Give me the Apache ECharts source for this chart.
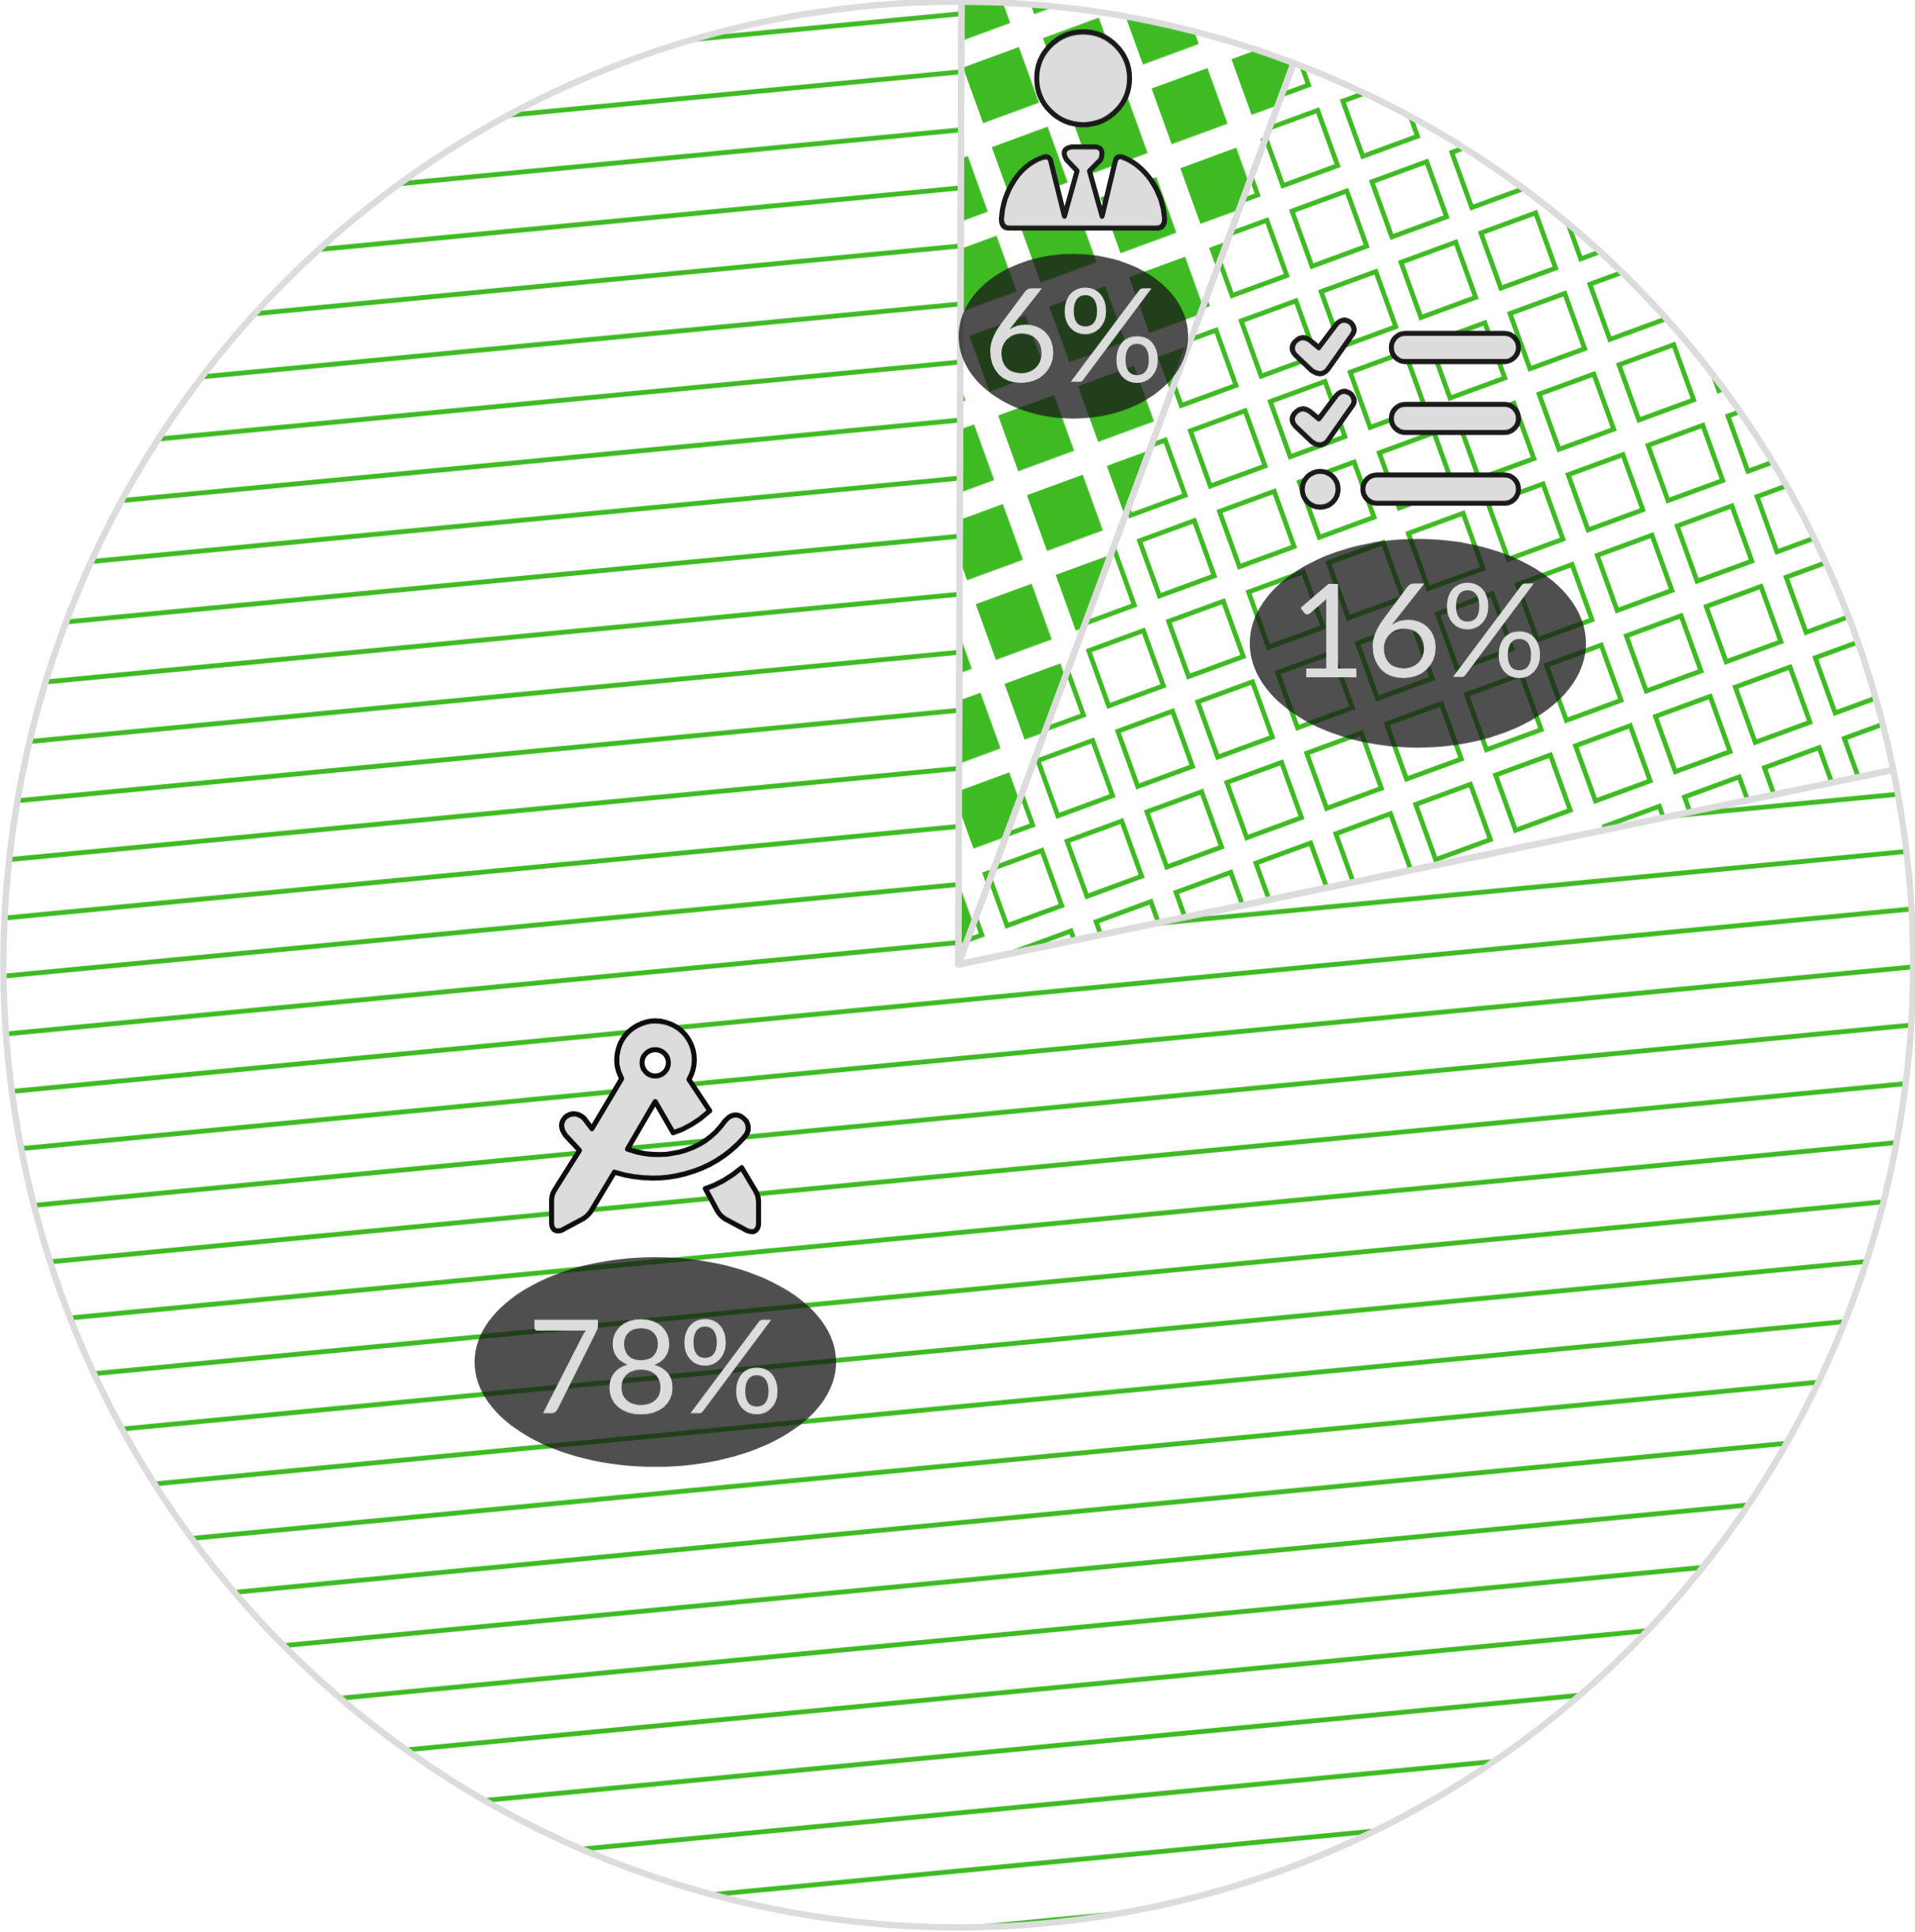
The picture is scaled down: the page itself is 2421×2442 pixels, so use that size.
<!DOCTYPE html>
<html>
<head>
<meta charset="utf-8">
<title>Pie</title>
<script src="https://cdn.jsdelivr.net/npm/echarts@6/dist/echarts.min.js"></script>
<style>
  html, body { margin: 0; background: #fff; }
  body { height: 2442px; }
  /* the reference circle is a little taller than wide */
  #chart { width: 2421px; height: 2422px; transform-origin: 0 0; transform: scaleY(1.00826); }
</style>
</head>
<body>
<div id="chart"></div>
<script>
const categories = ["person", "checklist", "compass"];
const sliceValues = [5.66, 16.05, 78.29]; // slice sizes as drawn
const sliceLabels = ["6%", "16%", "78%"];

const STRETCH = 1.00826;
const GREEN = "#3eba22";
const GREY = "#dcdcdc";
const INK = "#1a1a1a";
const DARK = "rgba(24,24,24,0.76)";
const TOP = 100; // z of everything over the pie

// pattern tiles, rotated by zrender through pattern.rotation
function tile(w, h, draw) {
  const c = document.createElement("canvas");
  c.width = w;
  c.height = h;
  draw(c.getContext("2d"));
  return c;
}

const M = 10;
function lattice(cornerX, cornerY, pitchY, draw) {
  const a = (20 * Math.PI) / 180;
  return {
    image: tile(108, 108, draw),
    repeat: "repeat",
    rotation: -a,
    scaleX: 107.5 / 108,
    scaleY: pitchY / 108,
    x: cornerX - M * Math.cos(a) - M * Math.sin(a),
    y: cornerY / STRETCH + M * Math.sin(a) - M * Math.cos(a),
  };
}

const solidSquares = lattice(1456, 112, 106.3, (ctx) => {
  ctx.fillStyle = GREEN;
  ctx.fillRect(M, M, 75.5, 75.5);
});
const openSquares = lattice(2043, 459.3, 107.5, (ctx) => {
  ctx.strokeStyle = GREEN;
  ctx.lineWidth = 6;
  ctx.strokeRect(M + 3, M + 3, 74, 74);
});
const stripes = {
  image: tile(400, 72, (ctx) => {
    ctx.fillStyle = GREEN;
    ctx.fillRect(0, 17, 400, 6);
  }),
  repeat: "repeat",
  rotation: (-5.44 * Math.PI) / 180,
  scaleX: 1,
  scaleY: 1.00583,
  x: -1.92,
  y: 185.67,
};
const sliceFills = [solidSquares, openSquares, stripes];

// icon outlines at 3x
const shapes = {
  personBody:
    "M110 805L665 805Q697 805 697 770C690 660 620 565 535 535Q515 530 510 550L460 760L412 588L455 545Q470 500 435 497L345 497Q300 505 325 545L365 588L317 760L265 550Q258 528 235 537C150 565 85 660 78 770Q78 805 110 805Z",
  tick: "M352 178L418 90Q445 60 475 85Q495 110 478 130L385 262Q360 290 325 265L262 205Q240 180 262 155Q288 128 318 150Z",
  compassBody:
    "M633 283L712 402C670 440 625 470 573 485L505 367L400 547C520 590 680 570 770 440Q810 395 850 440Q870 475 840 505C720 640 530 690 350 635L260 785Q245 805 225 815L150 855Q115 865 112 830L112 740Q112 720 125 700L218 552L165 495Q135 455 165 425Q200 400 235 430L265 470L378 280A147 147 0 1 1 633 283Z",
  compassTip: "M695 697C750 680 795 650 833 618L885 705Q897 725 897 745L897 835Q890 870 855 857L770 812Q750 800 740 780Z",
};
Object.keys(shapes).forEach((name) => {
  echarts.graphic.registerShape(name, echarts.graphic.extendPath(shapes[name], {}));
});

const chart = echarts.init(document.getElementById("chart"), null, { renderer: "canvas" });

function badge(cx, cy, rx, ry, text, textY) {
  return [
    { type: "ellipse", z: TOP, shape: { cx, cy, rx, ry }, style: { fill: DARK }, silent: true },
    {
      type: "text",
      z: TOP + 1,
      silent: true,
      style: {
        text,
        x: cx,
        y: textY,
        fill: GREY,
        font: "165px Lato",
        align: "center",
        verticalAlign: "middle",
      },
    },
  ];
}

function icon(x, y, stroke, children) {
  return {
    type: "group",
    x,
    y,
    scaleX: 1 / 3,
    scaleY: 1 / 3,
    silent: true,
    children: children.map((c) => ({
      z: TOP,
      ...c,
      style: { fill: GREY, stroke, lineWidth: 19, lineJoin: "round", ...c.style },
    })),
  };
}

const personIcon = icon(1240, 20, INK, [
  { type: "circle", shape: { cx: 388, cy: 237, r: 176 } },
  { type: "personBody" },
]);
const listIcon = icon(1550, 380, INK, [
  { type: "tick" },
  { type: "tick", y: 270 },
  { type: "circle", shape: { cx: 357, cy: 715, r: 68 } },
  { type: "rect", shape: { x: 627, y: 124, width: 482, height: 107, r: 53 } },
  { type: "rect", shape: { x: 627, y: 393, width: 482, height: 107, r: 53 } },
  { type: "rect", shape: { x: 519, y: 661, width: 590, height: 107, r: 53 } },
]);
const compassIcon = icon(660, 1270, "#0d0d0d", [
  { type: "compassBody" },
  { type: "circle", shape: { cx: 505, cy: 220, r: 50 }, style: { fill: "#fff" } },
  { type: "compassTip" },
]);

chart.setOption({
  animation: false,
  backgroundColor: "#fff",
  series: [
    {
      type: "pie",
      center: [1211.5, 1209],
      radius: [0, 1207],
      startAngle: 89.81,
      clockwise: true,
      silent: true,
      label: { show: false },
      labelLine: { show: false },
      itemStyle: { borderColor: GREY, borderWidth: 8, borderJoin: "round" },
      data: categories.map((name, i) => ({
        name,
        value: sliceValues[i],
        itemStyle: { color: sliceFills[i] },
      })),
    },
  ],
  graphic: {
    elements: [
      {
        type: "group",
        scaleY: 1 / STRETCH,
        children: [
          personIcon,
          ...badge(1357, 425, 145, 104, sliceLabels[0], 430),
          listIcon,
          ...badge(1792.5, 813, 212.5, 132, sliceLabels[1], 803),
          compassIcon,
          ...badge(828.5, 1721.5, 228.5, 132.5, sliceLabels[2], 1733),
        ],
      },
    ],
  },
});

window.addEventListener("resize", () => chart.resize());
</script>
</body>
</html>
